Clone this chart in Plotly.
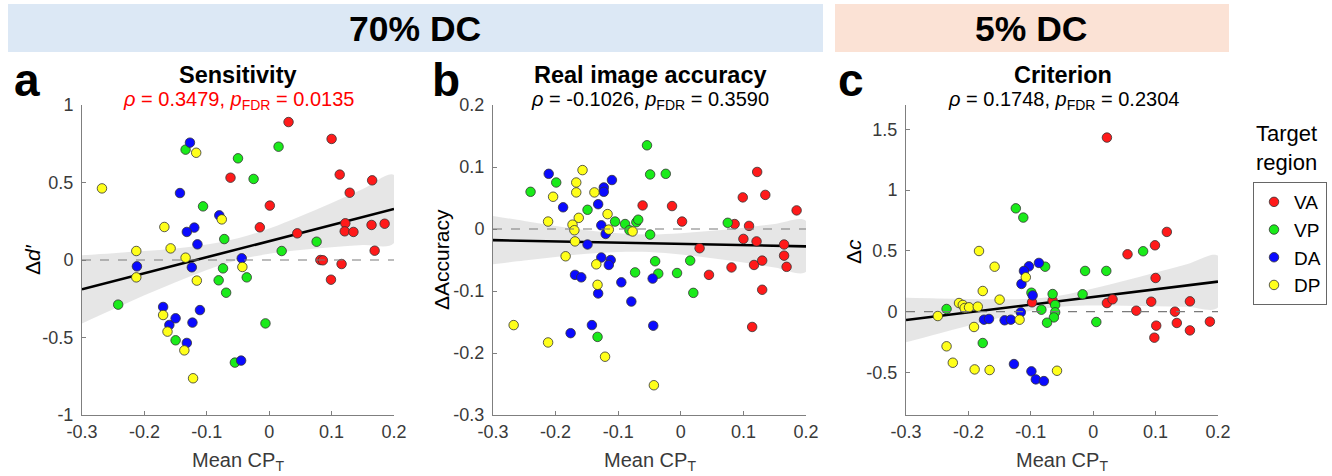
import plotly.graph_objects as go

W, H = 1332, 476
def px(x): return x / W
def py(y): return 1 - y / H

regions = ["VA", "VP", "DA", "DP"]
colors = {"VA": "#ff1a1a", "VP": "#1aeb1a", "DA": "#0a0aff", "DP": "#ffff1a"}

# ---------------- Panel a : Sensitivity (Δd') ----------------
a_x = {
    "VA": [0.031, 0.100, 0.113, 0.165, 0.129, -0.062, 0.001, -0.015, 0.045, 0.122, 0.121, 0.135, 0.164, 0.185, 0.169, 0.082, 0.086, 0.116, 0.099],
    "VP": [-0.134, -0.050, -0.106, -0.025, 0.015, -0.072, 0.076, 0.020, -0.074, -0.081, -0.069, -0.036, -0.242, -0.150, -0.006, -0.055],
    "DA": [-0.127, -0.143, -0.120, -0.132, -0.115, -0.080, -0.212, -0.124, -0.044, -0.170, -0.160, -0.150, -0.123, -0.111, -0.132, -0.045],
    "DP": [-0.268, -0.117, -0.168, -0.158, -0.213, -0.213, -0.134, -0.116, -0.076, -0.043, -0.170, -0.163, -0.136, -0.122],
}
a_y = {
    "VA": [0.890, 0.781, 0.551, 0.514, 0.434, 0.531, 0.351, 0.211, 0.172, 0.237, 0.185, 0.181, 0.226, 0.234, 0.060, 0.000, -0.002, -0.026, -0.127],
    "VP": [0.712, 0.656, 0.346, 0.523, 0.731, 0.135, 0.118, 0.058, -0.054, -0.131, -0.211, -0.112, -0.288, -0.518, -0.409, -0.662],
    "DA": [0.757, 0.432, 0.209, 0.181, 0.101, 0.288, -0.041, -0.047, 0.011, -0.303, -0.419, -0.376, -0.404, -0.323, -0.535, -0.649],
    "DP": [0.462, 0.692, 0.213, 0.075, 0.058, -0.112, 0.015, -0.133, 0.262, -0.045, -0.355, -0.462, -0.583, -0.763],
}

# ---------------- Panel b : Real image accuracy ----------------
b_x = {
    "VA": [-0.061, -0.014, 0.002, 0.030, 0.045, 0.081, 0.086, 0.099, 0.100, 0.109, 0.117, 0.121, 0.122, 0.130, 0.130, 0.135, 0.114, 0.165, 0.165, 0.169, 0.185],
    "VP": [-0.240, -0.199, -0.149, -0.105, -0.089, -0.082, -0.071, -0.068, -0.054, -0.049, -0.024, -0.049, -0.041, -0.036, -0.073, -0.006, 0.015, 0.020, 0.075, -0.133],
    "DA": [-0.211, -0.188, -0.110, -0.123, -0.123, -0.132, -0.127, -0.120, -0.149, -0.127, -0.112, -0.115, -0.169, -0.159, -0.132, -0.095, -0.079, -0.045, -0.176, -0.142, -0.044],
    "DP": [-0.157, -0.167, -0.167, -0.204, -0.138, -0.212, -0.163, -0.117, -0.173, -0.170, -0.115, -0.077, -0.169, -0.184, -0.135, -0.133, -0.267, -0.212, -0.121, -0.043],
}
b_y = {
    "VA": [0.038, 0.037, 0.012, -0.031, -0.074, -0.062, 0.008, 0.051, -0.016, 0.005, -0.058, -0.020, 0.092, -0.051, -0.098, 0.055, -0.158, -0.025, -0.043, -0.061, 0.030],
    "VP": [0.060, 0.075, 0.031, 0.012, 0.008, -0.002, 0.011, 0.015, 0.135, 0.088, 0.089, -0.009, -0.052, -0.072, -0.070, -0.071, -0.051, -0.103, 0.010, -0.174],
    "DA": [0.089, 0.035, 0.079, 0.067, 0.060, 0.040, 0.006, -0.008, -0.025, -0.046, -0.050, -0.058, -0.074, -0.078, -0.104, -0.086, -0.117, -0.080, -0.168, -0.155, -0.156],
    "DP": [0.095, 0.075, 0.059, 0.052, 0.059, 0.012, 0.018, 0.024, 0.007, -0.002, -0.001, -0.004, -0.020, -0.044, -0.057, -0.090, -0.155, -0.183, -0.206, -0.252],
}

# ---------------- Panel c : Criterion (Δc) ----------------
c_x = {
    "VA": [0.022, 0.118, 0.099, 0.055, 0.100, 0.022, 0.031, 0.069, 0.093, 0.155, 0.131, 0.134, 0.101, 0.098, 0.155, 0.187, -0.098, -0.065],
    "VP": [-0.124, -0.112, 0.080, -0.077, -0.013, 0.021, -0.017, -0.099, -0.065, -0.061, -0.061, -0.063, -0.083, -0.074, 0.005, -0.235, -0.177],
    "DA": [-0.087, -0.103, -0.111, -0.115, -0.097, -0.116, -0.175, -0.167, -0.142, -0.132, -0.127, -0.099, -0.092, -0.079],
    "DP": [-0.183, -0.158, -0.108, -0.177, -0.150, -0.215, -0.209, -0.206, -0.199, -0.185, -0.249, -0.118, -0.191, -0.235, -0.225, -0.190, -0.166, -0.058],
}
c_y = {
    "VA": [1.432, 0.656, 0.546, 0.472, 0.277, 0.071, 0.102, 0.008, 0.082, 0.085, 0.000, -0.093, -0.115, -0.214, -0.154, -0.082, 0.077, 0.091],
    "VP": [0.850, 0.774, 0.497, 0.370, 0.335, 0.335, 0.143, 0.156, 0.145, 0.055, -0.005, -0.047, 0.016, -0.091, -0.085, 0.022, -0.258],
    "DA": [0.401, 0.373, 0.335, 0.228, 0.134, -0.005, -0.066, -0.060, -0.071, -0.066, -0.431, -0.491, -0.557, -0.571],
    "DP": [0.499, 0.370, 0.283, 0.170, 0.099, 0.071, 0.055, 0.030, 0.036, 0.041, -0.036, -0.066, -0.126, -0.285, -0.420, -0.475, -0.480, -0.486],
}

# Fit lines (read at x = -0.3 and 0.2) and confidence bands
fit_x = [-0.3, 0.2]
a_fit = [-0.189, 0.329]
b_fit = [-0.018, -0.028]
c_fit = [-0.069, 0.247]

band_x = [-0.3, -0.25, -0.2, -0.15, -0.1, -0.05, 0.0, 0.05, 0.1, 0.15, 0.2]
a_up = [0.031, 0.044, 0.058, 0.075, 0.100, 0.140, 0.203, 0.282, 0.368, 0.458, 0.549]
a_lo = [-0.409, -0.318, -0.228, -0.143, -0.064, 0.000, 0.040, 0.064, 0.082, 0.096, 0.109]
b_up = [0.021, 0.013, 0.005, -0.002, -0.007, -0.009, -0.007, -0.003, 0.002, 0.008, 0.013]
b_lo = [-0.057, -0.051, -0.045, -0.040, -0.037, -0.037, -0.041, -0.047, -0.054, -0.062, -0.069]
c_up = [0.114, 0.109, 0.104, 0.102, 0.107, 0.136, 0.191, 0.255, 0.323, 0.391, 0.460]
c_lo = [-0.252, -0.183, -0.116, -0.050, 0.007, 0.042, 0.051, 0.049, 0.045, 0.041, 0.034]

# Ticks
x_ticks = [-0.3, -0.2, -0.1, 0, 0.1, 0.2]
x_ticktext = ["-0.3", "-0.2", "-0.1", "0", "0.1", "0.2"]
a_yticks = [-1, -0.5, 0, 0.5, 1]
a_yticktext = ["-1", "-0.5", "0", "0.5", "1"]
b_yticks = [-0.3, -0.2, -0.1, 0, 0.1, 0.2]
b_yticktext = ["-0.3", "-0.2", "-0.1", "0", "0.1", "0.2"]
c_yticks = [-0.5, 0, 0.5, 1, 1.5]
c_yticktext = ["-0.5", "0", "0.5", "1", "1.5"]

FONT = "Liberation Sans, Arial, sans-serif"

panels = [
    dict(xs=a_x, ys=a_y, fit=a_fit, up=a_up, lo=a_lo, ax="x", ay="y",
         xdom=(82, 394), yr=[-1, 1], yt=a_yticks, ytt=a_yticktext),
    dict(xs=b_x, ys=b_y, fit=b_fit, up=b_up, lo=b_lo, ax="x2", ay="y2",
         xdom=(493, 806), yr=[-0.3, 0.2], yt=b_yticks, ytt=b_yticktext),
    dict(xs=c_x, ys=c_y, fit=c_fit, up=c_up, lo=c_lo, ax="x3", ay="y3",
         xdom=(906, 1218), yr=[-0.85, 1.7], yt=c_yticks, ytt=c_yticktext),
]

fig = go.Figure()
layout_axes = {}
shapes = []

for i, p in enumerate(panels):
    # confidence band
    fig.add_trace(go.Scatter(
        x=band_x + band_x[::-1], y=p["up"] + p["lo"][::-1],
        xaxis=p["ax"], yaxis=p["ay"], fill="toself", mode="lines",
        line=dict(width=0, shape="spline"), fillcolor="rgba(200,200,200,0.45)",
        showlegend=False, hoverinfo="skip"))
    # zero dashed line
    suffix = "" if i == 0 else str(i + 1)
    shapes.append(dict(type="line", xref=f"x{suffix} domain", yref=f"y{suffix}",
                       x0=0, x1=1, y0=0, y1=0,
                       line=dict(color="#7a7a7a", width=1.2, dash="dash")))
    # fit line
    fig.add_trace(go.Scatter(
        x=fit_x, y=p["fit"], xaxis=p["ax"], yaxis=p["ay"], mode="lines",
        line=dict(color="black", width=2.6), showlegend=False, hoverinfo="skip"))
    # points
    for r in regions:
        fig.add_trace(go.Scatter(
            x=p["xs"][r], y=p["ys"][r], xaxis=p["ax"], yaxis=p["ay"],
            mode="markers", name=r, legendgroup=r, showlegend=(i == 0),
            marker=dict(size=9.5, color=colors[r],
                        line=dict(color="#333333", width=0.8))))

    axcommon = dict(showline=True, linecolor="#7f7f7f", linewidth=1,
                    ticks="inside", ticklen=4, tickcolor="#7f7f7f",
                    showgrid=False, zeroline=False, automargin=False,
                    tickfont=dict(family=FONT, size=18, color="#3a3a3a"))
    xkey = "xaxis" if i == 0 else f"xaxis{i+1}"
    ykey = "yaxis" if i == 0 else f"yaxis{i+1}"
    layout_axes[xkey] = dict(domain=[px(p["xdom"][0]), px(p["xdom"][1])],
                             range=[-0.3, 0.2], tickvals=x_ticks, ticktext=x_ticktext,
                             anchor=p["ay"], **axcommon)
    layout_axes[ykey] = dict(domain=[py(415), py(105)], range=p["yr"],
                             tickvals=p["yt"], ticktext=p["ytt"],
                             anchor=p["ax"], ticklabelstandoff=4, **axcommon)

# header boxes
shapes.append(dict(type="rect", xref="paper", yref="paper",
                   x0=px(8), x1=px(823), y0=py(52), y1=py(4),
                   fillcolor="#dce8f5", line=dict(width=0), layer="below"))
shapes.append(dict(type="rect", xref="paper", yref="paper",
                   x0=px(835), x1=px(1229), y0=py(52), y1=py(4),
                   fillcolor="#fbe2d5", line=dict(width=0), layer="below"))

def ann(text, x, y, size, color="black", bold=False, angle=0, xanchor="center"):
    t = f"<b>{text}</b>" if bold else text
    return dict(text=t, x=px(x), y=py(y), xref="paper", yref="paper",
                xanchor=xanchor, yanchor="middle", showarrow=False, textangle=angle,
                font=dict(family=FONT, size=size, color=color))

annotations = [
    ann("70% DC", 415, 29, 35.5, bold=True),
    ann("5% DC", 1031, 29, 35.5, bold=True),
    ann("a", 27, 80, 46, bold=True),
    ann("b", 446, 80, 46, bold=True),
    ann("c", 851, 80, 46, bold=True),
    ann("Sensitivity", 238, 75, 23.5, bold=True),
    ann("Real image accuracy", 650, 75, 23.5, bold=True),
    ann("Criterion", 1063, 75, 23.5, bold=True),
    ann("<i>ρ</i> = 0.3479, <i>p</i><sub>FDR</sub> = 0.0135", 238, 100, 20, color="#ff0000"),
    ann("<i>ρ</i> = -0.1026, <i>p</i><sub>FDR</sub> = 0.3590", 650, 100, 20),
    ann("<i>ρ</i> = 0.1748, <i>p</i><sub>FDR</sub> = 0.2304", 1063, 100, 20),
    ann("Mean CP<sub>T</sub>", 238, 461, 20, color="#3a3a3a"),
    ann("Mean CP<sub>T</sub>", 650, 461, 20, color="#3a3a3a"),
    ann("Mean CP<sub>T</sub>", 1062, 461, 20, color="#3a3a3a"),
    ann("Δ<i>d′</i>", 32, 260, 21, angle=-90),
    ann("ΔAccuracy", 441, 260, 21, angle=-90),
    ann("Δ<i>c</i>", 853, 252, 21, angle=-90),
    ann("Target<br>region", 1286, 148, 22),
]

fig.update_layout(
    width=W, height=H, autosize=False,
    margin=dict(l=0, r=0, t=0, b=0, autoexpand=False),
    paper_bgcolor="white", plot_bgcolor="white",
    shapes=shapes, annotations=annotations,
    legend=dict(x=px(1253), y=py(182), xanchor="left", yanchor="top",
                bordercolor="#666666", borderwidth=1, bgcolor="white",
                font=dict(family=FONT, size=19, color="black"),
                itemwidth=30, tracegroupgap=0),
    showlegend=True,
    **layout_axes,
)

fig.write_html("out.html", config={"displayModeBar": False},
               post_script="document.body.style.margin='0';document.body.style.overflow='hidden';")
